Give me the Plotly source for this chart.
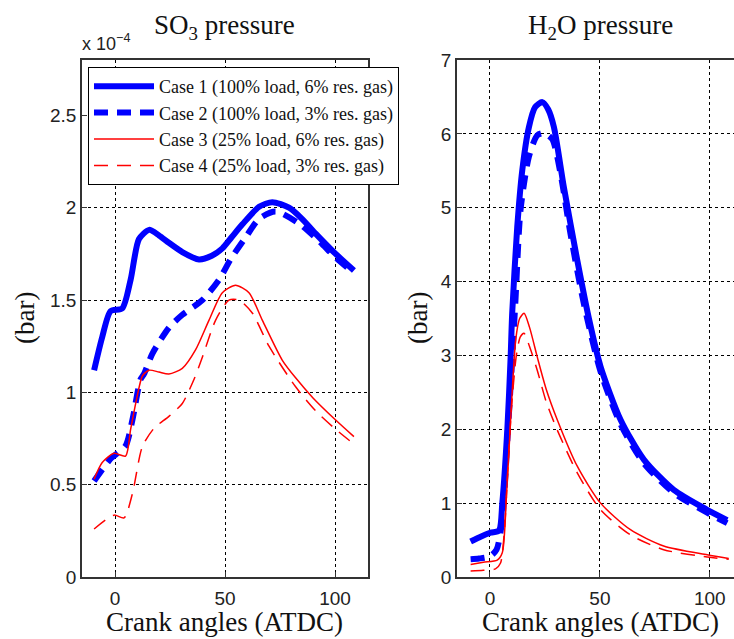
import plotly.graph_objects as go

W, H = 734, 639

# ---------------- data: SO3 pressure (x 1e-4 bar) ----------------
so3_c1_x = [-9.5, -5.8, -2, 3.3, 7.1, 10.9, 15.5, 20, 24.5, 30.6, 38.2, 44, 48.8, 53, 57.9, 65.5, 71.5, 79.1, 85, 91.2, 100.3, 108.6]
so3_c1_y = [1.12, 1.30, 1.44, 1.455, 1.61, 1.83, 1.88, 1.85, 1.81, 1.76, 1.72, 1.74, 1.78, 1.84, 1.91, 2.005, 2.03, 2.00, 1.94, 1.86, 1.75, 1.66]

so3_c2_x = [-9.5, -2, 4.8, 7.9, 11.6, 13.2, 17, 24.5, 30.6, 39.7, 47.3, 52.5, 59.4, 65.5, 73, 83.6, 92.7, 100.3, 108.6]
so3_c2_y = [0.52, 0.64, 0.71, 0.85, 1.07, 1.10, 1.21, 1.35, 1.42, 1.50, 1.61, 1.72, 1.84, 1.94, 1.98, 1.915, 1.82, 1.73, 1.645]

so3_c3_x = [-9.5, -5.8, -0.5, 4.8, 7.1, 10.1, 12.5, 15.5, 20, 24.5, 30.6, 36.6, 42.7, 48.8, 54.8, 60.9, 67, 76, 82, 90, 100.3, 108.6]
so3_c3_y = [0.53, 0.62, 0.67, 0.655, 0.80, 0.98, 1.09, 1.12, 1.11, 1.10, 1.13, 1.23, 1.39, 1.54, 1.58, 1.54, 1.39, 1.175, 1.08, 0.97, 0.85, 0.76]

so3_c4_x = [-9.5, -0.5, 4.1, 7.9, 12.4, 17.7, 24.5, 30.6, 35.9, 39.7, 45.7, 51.8, 56.4, 62.4, 70, 82.1, 91.2, 100.3, 108.6]
so3_c4_y = [0.26, 0.335, 0.32, 0.45, 0.705, 0.805, 0.87, 0.94, 1.07, 1.19, 1.39, 1.50, 1.50, 1.43, 1.25, 1.03, 0.90, 0.80, 0.72]

# ---------------- data: H2O pressure (bar) ----------------
h2o_c1_x = [-8.8, -4, 0.3, 4.1, 5.6, 7.9, 9.4, 10.1, 12.4, 14.7, 17.7, 20.5, 23.8, 26.5, 29.1, 33.6, 39.7, 45, 50.3, 59.4, 70, 83.6, 98.8, 107.9]
h2o_c1_y = [0.48, 0.55, 0.60, 0.63, 1.00, 2.00, 2.98, 3.57, 4.74, 5.51, 6.09, 6.36, 6.43, 6.33, 6.09, 5.28, 4.29, 3.50, 2.85, 2.13, 1.59, 1.18, 0.91, 0.77]

h2o_c2_x = [-8.8, -5, 0, 3, 5.6, 8, 10, 11.6, 13.9, 17.7, 21.5, 24.5, 28.3, 32.1, 36.6, 42.7, 50.3, 59.4, 70, 83.6, 98.8, 107.9]
h2o_c2_y = [0.24, 0.25, 0.28, 0.37, 0.78, 1.90, 2.90, 3.75, 4.97, 5.69, 5.98, 6.01, 5.93, 5.46, 4.65, 3.70, 2.78, 2.07, 1.54, 1.14, 0.87, 0.73]

h2o_c3_x = [-8.8, -3, 3.3, 5.6, 7.5, 9.4, 11.7, 13.5, 15.5, 18, 21.5, 25.5, 30.6, 39.7, 50.3, 63.9, 79, 98.8, 108.6]
h2o_c3_y = [0.17, 0.20, 0.23, 0.33, 1.10, 2.13, 3.21, 3.50, 3.57, 3.38, 2.98, 2.55, 2.13, 1.50, 1.00, 0.64, 0.42, 0.30, 0.25]

h2o_c4_x = [-8.8, -3, 2.5, 4.8, 6.5, 8, 9.8, 12, 13.8, 15.5, 18, 21.5, 25.5, 30.6, 39.7, 50.3, 63.9, 79, 98.8, 108.6]
h2o_c4_y = [0.08, 0.09, 0.11, 0.19, 0.60, 1.40, 2.30, 3.00, 3.25, 3.30, 3.12, 2.80, 2.38, 1.99, 1.41, 0.91, 0.57, 0.37, 0.27, 0.24]

case_names = ["Case 1 (100% load, 6% res. gas)",
              "Case 2 (100% load, 3% res. gas)",
              "Case 3 (25% load, 6% res. gas)",
              "Case 4 (25% load, 3% res. gas)"]

x_ticks = [0, 50, 100]
so3_y_ticks = [0, 0.5, 1, 1.5, 2, 2.5]
h2o_y_ticks = [0, 1, 2, 3, 4, 5, 6, 7]

styles = [dict(color="#0000ff", width=6, dash="solid"),
          dict(color="#0000ff", width=6, dash="14px,9px"),
          dict(color="#ff0000", width=1.5, dash="solid"),
          dict(color="#ff0000", width=1.5, dash="14px,9px")]

fig = go.Figure()
so3 = [(so3_c1_x, so3_c1_y), (so3_c2_x, so3_c2_y), (so3_c3_x, so3_c3_y), (so3_c4_x, so3_c4_y)]
h2o = [(h2o_c1_x, h2o_c1_y), (h2o_c2_x, h2o_c2_y), (h2o_c3_x, h2o_c3_y), (h2o_c4_x, h2o_c4_y)]

for i, (xs, ys) in enumerate(so3):
    fig.add_trace(go.Scatter(x=xs, y=ys, mode="lines", name=case_names[i],
                             line=dict(shape="spline", smoothing=0.7, **styles[i]),
                             xaxis="x", yaxis="y", showlegend=True))
for i, (xs, ys) in enumerate(h2o):
    fig.add_trace(go.Scatter(x=xs, y=ys, mode="lines", name=case_names[i],
                             line=dict(shape="spline", smoothing=0.7, **styles[i]),
                             xaxis="x2", yaxis="y2", showlegend=False))

tick_font = dict(family="Liberation Sans, Arial", size=19, color="#222")
serif = "Liberation Serif, Times New Roman"

common = dict(showgrid=True, gridcolor="black", griddash="dot", gridwidth=1,
              zeroline=False, showline=True, linecolor="#333", linewidth=1.5,
              ticks="inside", ticklen=5, tickcolor="#333", tickfont=tick_font,
              automargin=False)

ydom = [1 - 577 / H, 1 - 60 / H]
fig.update_layout(
    width=W, height=H,
    margin=dict(l=0, r=0, t=0, b=0, autoexpand=False),
    paper_bgcolor="white", plot_bgcolor="white",
    xaxis=dict(domain=[82 / W, 368 / W], range=[-15, 115], tickvals=x_ticks,
               mirror=True, anchor="y", ticklabelstandoff=3, **common),
    yaxis=dict(domain=ydom, range=[0, 2.8], tickvals=so3_y_ticks,
               ticktext=[str(v) for v in so3_y_ticks], mirror=True, anchor="x", **common),
    xaxis2=dict(domain=[457 / W, 1.0], range=[-15, 111], tickvals=x_ticks,
                mirror=True, anchor="y2", ticklabelstandoff=3, **common),
    yaxis2=dict(domain=ydom, range=[0, 7], tickvals=h2o_y_ticks,
                mirror=False, anchor="x2", **common),
    legend=dict(x=88 / W, y=1 - 67 / H, xanchor="left", yanchor="top",
                bgcolor="white", bordercolor="black", borderwidth=1,
                font=dict(family=serif, size=18, color="#111"),
                tracegroupgap=0, itemwidth=60),
    showlegend=True,
)

ann = [
    dict(text="SO<sub>3</sub> pressure", x=225 / W, y=1 - 27 / H),
    dict(text="H<sub>2</sub>O pressure", x=600 / W, y=1 - 27 / H),
    dict(text="Crank angles (ATDC)", x=225 / W, y=1 - 622 / H),
    dict(text="Crank angles (ATDC)", x=600 / W, y=1 - 622 / H),
]
for a in ann:
    fig.add_annotation(text=a["text"], x=a["x"], y=a["y"], xref="paper", yref="paper",
                       showarrow=False, xanchor="center", yanchor="middle",
                       font=dict(family=serif, size=27, color="#111"))
for xp in (25, 418):
    fig.add_annotation(text="(bar)", x=xp / W, y=1 - 318 / H, xref="paper", yref="paper",
                       showarrow=False, textangle=-90, xanchor="center", yanchor="middle",
                       font=dict(family=serif, size=27, color="#111"))
fig.add_annotation(text="x 10<sup>\u22124</sup>", x=80 / W, y=1 - 42 / H, xref="paper", yref="paper",
                   showarrow=False, xanchor="left", yanchor="middle",
                   font=dict(family="Liberation Sans, Arial", size=18, color="#222"))

fig.write_html("out.html", config={"displayModeBar": False},
               post_script="document.body.style.margin='0';document.body.style.overflow='hidden';")
